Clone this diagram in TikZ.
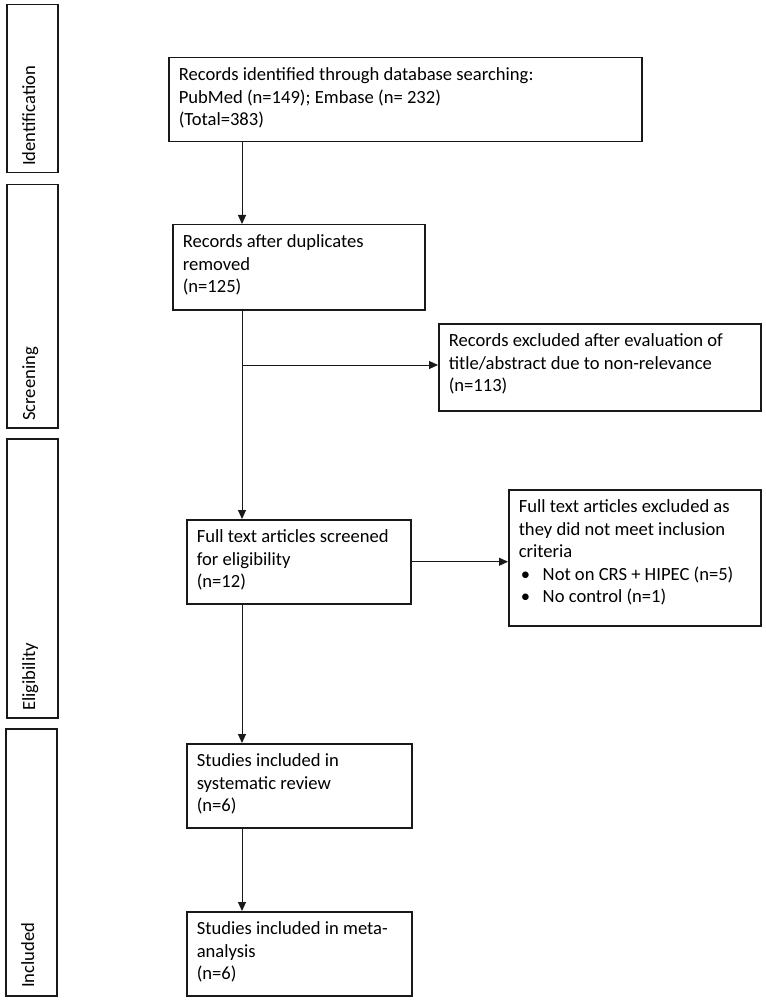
\documentclass[tikz,border=0pt]{standalone}
\usepackage{fontspec}
\setmainfont{Carlito}
\usetikzlibrary{arrows.meta}
\newcommand{\boxtxt}[3]{\parbox[t][#2][t]{#1}{\raggedright #3}}
\newcommand{\bul}{\makebox[24pt][l]{\hspace{2pt}•}}
\begin{document}
\begin{tikzpicture}[x=1pt,y=-1pt,
  every node/.style={font=\fontsize{18.6pt}{22.5pt}\selectfont},
  fbox/.style={draw=black!90, line width=1.5pt, inner xsep=10pt, inner ysep=10pt, anchor=north west},
  sidebox/.style={draw=black!90, line width=1.5pt, anchor=north west, inner sep=0pt},
  sidelbl/.style={rotate=90, anchor=base west, inner sep=0pt},
  arr/.style={draw=black!90, line width=1pt, -{Triangle[length=9pt,width=8pt]}},
  ln/.style={draw=black!90, line width=1pt}]
\useasboundingbox (0,0) rectangle (765,1000);
% side phase boxes
\node[sidebox, minimum width=51pt, minimum height=168pt] (sid) at (6,4) {};
\node[sidebox, minimum width=51pt, minimum height=243pt] (sscr) at (6,184) {};
\node[sidebox, minimum width=51pt, minimum height=279pt] (seli) at (6,438) {};
\node[sidebox, minimum width=51pt, minimum height=267pt] (sinc) at (5,728) {};
\node[sidelbl] (lid) at (35,166) {Identification};
\node[sidelbl] (lscr) at (35,421) {Screening};
\node[sidelbl] (leli) at (35,711) {Eligibility};
\node[sidelbl] (linc) at (34,988) {Included};
% flow boxes
\node[fbox] (b1) at (168,57) {\boxtxt{453pt}{64pt}{Records identified through database searching:\\PubMed (n=149); Embase (n= 232)\\(Total=383)}};
\node[fbox] (b2) at (172,224) {\boxtxt{232pt}{65pt}{Records after duplicates\\removed\\(n=125)}};
\node[fbox] (b3) at (438,323) {\boxtxt{302pt}{67pt}{Records excluded after evaluation of\\title/abstract due to non-relevance\\(n=113)}};
\node[fbox] (b4) at (186,519) {\boxtxt{204pt}{64pt}{Full text articles screened\\for eligibility\\(n=12)}};
\node[fbox] (b5) at (508,489) {\boxtxt{232pt}{116pt}{Full text articles excluded as\\they did not meet inclusion\\criteria\\\bul Not on CRS + HIPEC (n=5)\\\bul No control (n=1)}};
\node[fbox] (b6) at (186,743) {\boxtxt{205pt}{64pt}{Studies included in\\systematic review\\(n=6)}};
\node[fbox] (b7) at (186,911) {\boxtxt{205pt}{64pt}{Studies included in meta-\\analysis\\(n=6)}};
% connectors
\coordinate (mx) at (242,0);
\coordinate (br1) at (242,365);
\draw[arr] (b1.south -| mx) -- (b2.north -| mx);
\draw[arr] (b2.south -| mx) -- (b4.north -| mx);
\draw[arr] (br1) -- (br1 -| b3.west);
\draw[arr] (b4.east) -- (b4.east -| b5.west);
\draw[arr] (b4.south -| mx) -- (b6.north -| mx);
\draw[arr] (b6.south -| mx) -- (b7.north -| mx);
\end{tikzpicture}
\end{document}
